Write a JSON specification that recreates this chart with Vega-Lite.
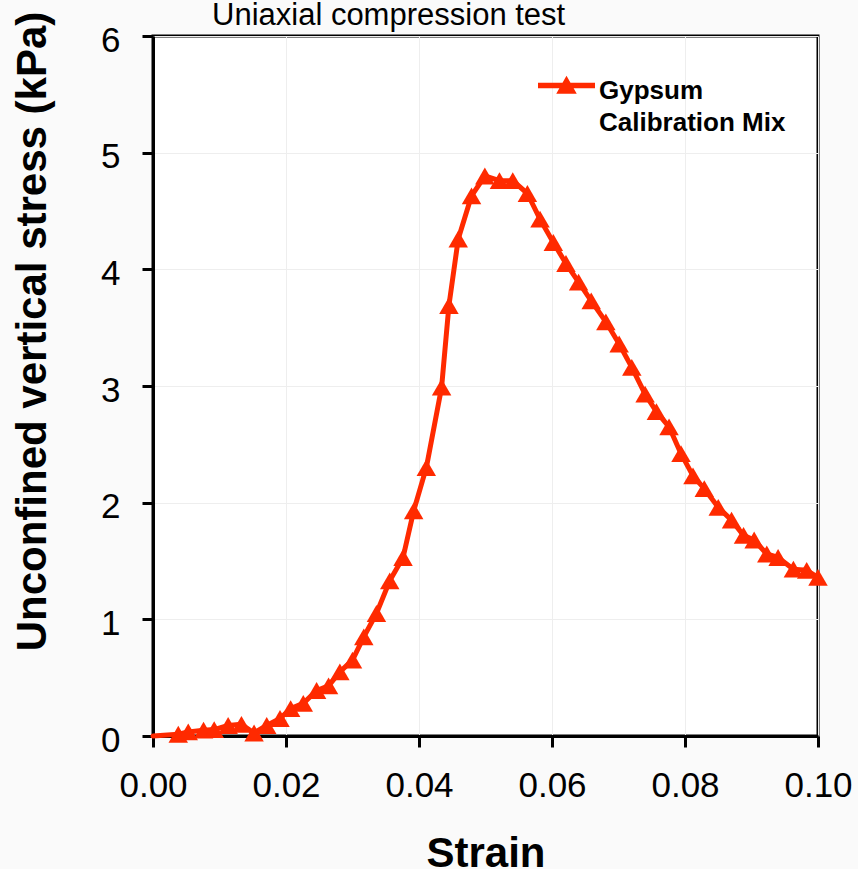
{
  "$schema": "https://vega.github.io/schema/vega-lite/v6.json",
  "autosize": "none",
  "width": 665,
  "height": 700,
  "padding": {"top": 36, "left": 153, "right": 40, "bottom": 133},
  "background": "#fafafa",
  "title": {
    "text": "Uniaxial compression test",
    "font": "Liberation Sans",
    "fontSize": 31,
    "fontWeight": "normal",
    "color": "black",
    "anchor": "start",
    "frame": "group",
    "dx": 59,
    "baseline": "bottom",
    "offset": -52
  },
  "data": {
    "values": [
      {"strain": 0.0, "stress": 0.0, "series": "Gypsum Calibration Mix"},
      {"strain": 0.0038, "stress": 0.015, "series": "Gypsum Calibration Mix"},
      {"strain": 0.0053, "stress": 0.035, "series": "Gypsum Calibration Mix"},
      {"strain": 0.0076, "stress": 0.05, "series": "Gypsum Calibration Mix"},
      {"strain": 0.0092, "stress": 0.055, "series": "Gypsum Calibration Mix"},
      {"strain": 0.0113, "stress": 0.09, "series": "Gypsum Calibration Mix"},
      {"strain": 0.0133, "stress": 0.10, "series": "Gypsum Calibration Mix"},
      {"strain": 0.0152, "stress": 0.026, "series": "Gypsum Calibration Mix"},
      {"strain": 0.0171, "stress": 0.09, "series": "Gypsum Calibration Mix"},
      {"strain": 0.0191, "stress": 0.15, "series": "Gypsum Calibration Mix"},
      {"strain": 0.0207, "stress": 0.235, "series": "Gypsum Calibration Mix"},
      {"strain": 0.0226, "stress": 0.28, "series": "Gypsum Calibration Mix"},
      {"strain": 0.0246, "stress": 0.39, "series": "Gypsum Calibration Mix"},
      {"strain": 0.0264, "stress": 0.43, "series": "Gypsum Calibration Mix"},
      {"strain": 0.0281, "stress": 0.55, "series": "Gypsum Calibration Mix"},
      {"strain": 0.0300, "stress": 0.65, "series": "Gypsum Calibration Mix"},
      {"strain": 0.0317, "stress": 0.85, "series": "Gypsum Calibration Mix"},
      {"strain": 0.0336, "stress": 1.05, "series": "Gypsum Calibration Mix"},
      {"strain": 0.0356, "stress": 1.33, "series": "Gypsum Calibration Mix"},
      {"strain": 0.0376, "stress": 1.53, "series": "Gypsum Calibration Mix"},
      {"strain": 0.0392, "stress": 1.93, "series": "Gypsum Calibration Mix"},
      {"strain": 0.0411, "stress": 2.30, "series": "Gypsum Calibration Mix"},
      {"strain": 0.0434, "stress": 2.99, "series": "Gypsum Calibration Mix"},
      {"strain": 0.0445, "stress": 3.69, "series": "Gypsum Calibration Mix"},
      {"strain": 0.0459, "stress": 4.26, "series": "Gypsum Calibration Mix"},
      {"strain": 0.0479, "stress": 4.63, "series": "Gypsum Calibration Mix"},
      {"strain": 0.0499, "stress": 4.80, "series": "Gypsum Calibration Mix"},
      {"strain": 0.0521, "stress": 4.76, "series": "Gypsum Calibration Mix"},
      {"strain": 0.0541, "stress": 4.76, "series": "Gypsum Calibration Mix"},
      {"strain": 0.0563, "stress": 4.65, "series": "Gypsum Calibration Mix"},
      {"strain": 0.0582, "stress": 4.43, "series": "Gypsum Calibration Mix"},
      {"strain": 0.0602, "stress": 4.23, "series": "Gypsum Calibration Mix"},
      {"strain": 0.0621, "stress": 4.05, "series": "Gypsum Calibration Mix"},
      {"strain": 0.0640, "stress": 3.89, "series": "Gypsum Calibration Mix"},
      {"strain": 0.0659, "stress": 3.73, "series": "Gypsum Calibration Mix"},
      {"strain": 0.0681, "stress": 3.55, "series": "Gypsum Calibration Mix"},
      {"strain": 0.0701, "stress": 3.36, "series": "Gypsum Calibration Mix"},
      {"strain": 0.0720, "stress": 3.16, "series": "Gypsum Calibration Mix"},
      {"strain": 0.0740, "stress": 2.93, "series": "Gypsum Calibration Mix"},
      {"strain": 0.0757, "stress": 2.78, "series": "Gypsum Calibration Mix"},
      {"strain": 0.0776, "stress": 2.65, "series": "Gypsum Calibration Mix"},
      {"strain": 0.0794, "stress": 2.42, "series": "Gypsum Calibration Mix"},
      {"strain": 0.0812, "stress": 2.23, "series": "Gypsum Calibration Mix"},
      {"strain": 0.0829, "stress": 2.12, "series": "Gypsum Calibration Mix"},
      {"strain": 0.0850, "stress": 1.96, "series": "Gypsum Calibration Mix"},
      {"strain": 0.0870, "stress": 1.85, "series": "Gypsum Calibration Mix"},
      {"strain": 0.0888, "stress": 1.72, "series": "Gypsum Calibration Mix"},
      {"strain": 0.0904, "stress": 1.68, "series": "Gypsum Calibration Mix"},
      {"strain": 0.0923, "stress": 1.56, "series": "Gypsum Calibration Mix"},
      {"strain": 0.0940, "stress": 1.53, "series": "Gypsum Calibration Mix"},
      {"strain": 0.0963, "stress": 1.43, "series": "Gypsum Calibration Mix"},
      {"strain": 0.0983, "stress": 1.42, "series": "Gypsum Calibration Mix"},
      {"strain": 0.1000, "stress": 1.36, "series": "Gypsum Calibration Mix"}
    ]
  },
  "encoding": {
    "x": {
      "field": "strain",
      "type": "quantitative",
      "scale": {"domain": [0, 0.1], "nice": false},
      "axis": {
        "title": "Strain",
        "values": [0, 0.02, 0.04, 0.06, 0.08, 0.1],
        "format": ".2f",
        "titleFontSize": 42,
        "titleFontWeight": "bold",
        "titleBaseline": "alphabetic",
        "titleY": 130,
        "labelFontSize": 35,
        "labelPadding": 21,
        "labelFlush": false,
        "labelOverlap": false
      }
    },
    "y": {
      "field": "stress",
      "type": "quantitative",
      "scale": {"domain": [0, 6], "nice": false},
      "axis": {
        "title": "Unconfined vertical stress (kPa)",
        "values": [0, 1, 2, 3, 4, 5, 6],
        "format": "d",
        "titleFontSize": 42,
        "titleFontWeight": "bold",
        "titleAngle": -90,
        "titleBaseline": "alphabetic",
        "titleAlign": "center",
        "titleX": -108,
        "titleY": 295,
        "labelFontSize": 35,
        "labelPadding": 22,
        "labelOffset": 4,
        "labelFlush": false,
        "labelOverlap": false
      }
    },
    "color": {
      "field": "series",
      "type": "nominal",
      "scale": {"domain": ["Gypsum Calibration Mix"], "range": ["#ff2a00"]},
      "legend": {
        "title": null,
        "orient": "none",
        "legendX": 385,
        "legendY": 13,
        "padding": 0,
        "symbolType": "M-1,0.18L1,0.18L1,0.38L-1,0.38Z M0,-0.06L0.36,0.57L-0.36,0.57Z",
        "symbolSize": 3249,
        "symbolFillColor": "#ff2a00",
        "symbolStrokeColor": "#ff2a00",
        "symbolStrokeWidth": 0,
        "symbolOpacity": 1,
        "labelExpr": "['Gypsum', 'Calibration Mix']",
        "labelFont": "Liberation Sans",
        "labelFontSize": 26,
        "labelFontWeight": "bold",
        "labelColor": "black",
        "labelBaseline": "top",
        "labelOffset": 4,
        "labelLimit": 400
      }
    }
  },
  "layer": [
    {
      "mark": {"type": "line", "strokeWidth": 5, "interpolate": "linear", "strokeCap": "round", "strokeJoin": "round"}
    },
    {
      "transform": [{"filter": "datum.strain > 0"}],
      "mark": {"type": "point", "shape": "triangle-up", "filled": true, "size": 380, "opacity": 1, "strokeWidth": 0}
    }
  ],
  "config": {
    "font": "Liberation Sans",
    "view": {"stroke": "black", "strokeWidth": 3, "fill": "white"},
    "style": {"guide-label": {"lineHeight": 32}},
    "axis": {
      "labelFont": "Liberation Sans",
      "titleFont": "Liberation Sans",
      "labelColor": "black",
      "titleColor": "black",
      "domainColor": "black",
      "domainWidth": 3,
      "tickColor": "black",
      "tickWidth": 3,
      "tickSize": 11,
      "grid": true,
      "gridColor": "#eeeeee",
      "gridWidth": 1
    }
  }
}
